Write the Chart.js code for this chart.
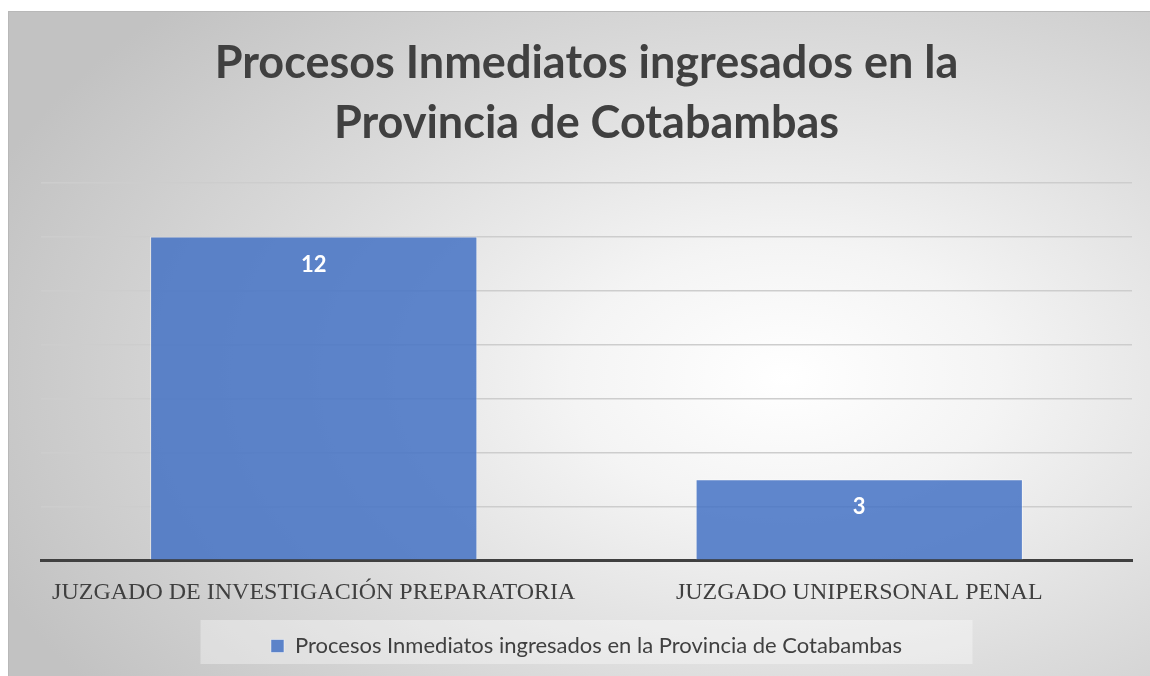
<!DOCTYPE html>
<html>
<head>
<meta charset="utf-8">
<script src="https://cdn.jsdelivr.net/npm/chart.js@4.4.1/dist/chart.umd.min.js"></script>
<style>
  html, body { margin: 0; padding: 0; background: #ffffff; }
  #marco {
    position: absolute;
    left: 8px; top: 11px;
    width: 1142px; height: 665px;
    box-sizing: border-box;
    border-top: 1px solid #b8b8b8;
    border-left: 1px solid #b8b8b8;
    background: radial-gradient(ellipse 75% 80% at 68% 55%, #ffffff 0%, #f4f4f4 25%, #dcdcdc 60%, #c2c2c2 100%);
  }
  #grafico { display: block; }
</style>
</head>
<body>
<div id="marco"><canvas id="grafico" width="1141" height="664"></canvas></div>
<script>
// datos del grafico
const categorias = ['JUZGADO DE INVESTIGACIÓN PREPARATORIA', 'JUZGADO UNIPERSONAL PENAL'];
const valores = [12, 3];
const nombreSerie = 'Procesos Inmediatos ingresados en la Provincia de Cotabambas';
const titulo = ['Procesos Inmediatos ingresados en la', 'Provincia de Cotabambas'];
const ejeMin = 0;
const ejeMax = 14;
const ejePaso = 2;

// etiquetas blancas dentro de las barras
const etiquetasBarras = {
  id: 'etiquetasBarras',
  afterDatasetsDraw(chart) {
    const ctx = chart.ctx;
    const meta = chart.getDatasetMeta(0);
    ctx.save();
    ctx.fillStyle = '#ffffff';
    ctx.font = 'bold 22px Lato';
    ctx.textAlign = 'center';
    ctx.textBaseline = 'middle';
    meta.data.forEach((barra, i) => {
      ctx.fillText(String(valores[i]), barra.x, barra.y + 28);
    });
    ctx.restore();
  }
};

// fondo claro detras de la leyenda
const fondoLeyenda = {
  id: 'fondoLeyenda',
  beforeDraw(chart) {
    const l = chart.legend;
    if (!l) return;
    const ctx = chart.ctx;
    const cx = (l.left + l.right) / 2;
    const cy = (l.top + l.bottom) / 2;
    ctx.save();
    ctx.fillStyle = 'rgba(255,255,255,0.35)';
    ctx.fillRect(cx - 386, cy - 22, 772, 44);
    ctx.restore();
  }
};

const ctx = document.getElementById('grafico').getContext('2d');
new Chart(ctx, {
  type: 'bar',
  data: {
    labels: categorias,
    datasets: [{
      label: nombreSerie,
      data: valores,
      backgroundColor: 'rgba(68, 114, 196, 0.85)',
      borderColor: 'rgba(255, 255, 255, 0.45)',
      borderWidth: 1,
      categoryPercentage: 1,
      barPercentage: 0.6
    }]
  },
  options: {
    responsive: false,
    animation: false,
    layout: { padding: { left: 32, right: 18, top: 21, bottom: 9 } },
    plugins: {
      title: {
        display: true,
        text: titulo,
        color: '#404040',
        font: { family: 'Lato', size: 45, weight: 'bold', lineHeight: 1.34 },
        padding: { top: 0, bottom: 29 }
      },
      legend: {
        position: 'bottom',
        labels: {
          color: '#404040',
          font: { family: 'Lato', size: 22 },
          boxWidth: 13,
          boxHeight: 13,
          padding: 18
        }
      },
      tooltip: { enabled: false }
    },
    scales: {
      x: {
        grid: { display: false },
        border: { display: true, color: '#404040', width: 3 },
        ticks: {
          color: '#404040',
          font: { family: 'Liberation Serif', size: 24 },
          padding: 10,
          maxRotation: 0
        }
      },
      y: {
        min: ejeMin,
        max: ejeMax,
        ticks: { stepSize: ejePaso, display: false },
        border: { display: false },
        grid: { color: '#cdcdcd', lineWidth: 1.5, drawTicks: false }
      }
    }
  },
  plugins: [etiquetasBarras, fondoLeyenda]
});
</script>
</body>
</html>
